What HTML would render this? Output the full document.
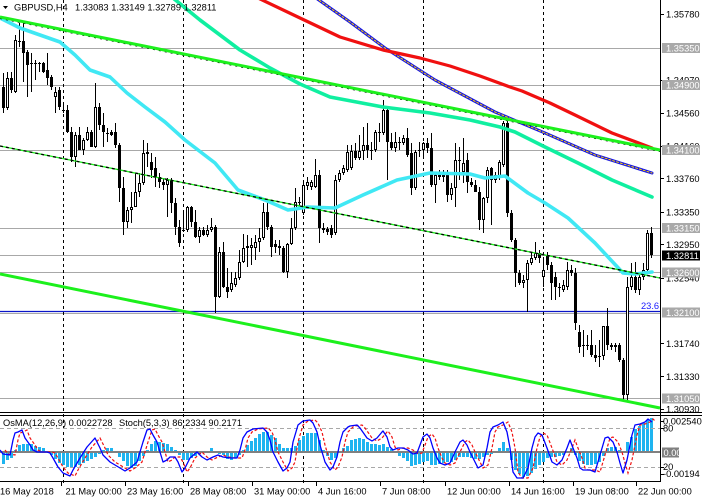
<!DOCTYPE html>
<html><head><meta charset="utf-8">
<style>
html,body{margin:0;padding:0;background:#fff;width:702px;height:502px;overflow:hidden}
svg{display:block}
text{font-family:"Liberation Sans",sans-serif;font-size:9.3px;fill:#000}
</style></head>
<body>
<svg width="702" height="502" viewBox="0 0 702 502" xmlns="http://www.w3.org/2000/svg">
<rect width="702" height="502" fill="#fff"/>
<!-- horizontal level lines -->
<g stroke="#a8a8a8" stroke-width="1" shape-rendering="crispEdges">
<path d="M0 48.5H660M0 85.5H660M0 150.5H660M0 228.5H660M0 255.5H660M0 272.5H660M0 313.5H660M0 398.5H660"/>
</g>
<path d="M0 311.5H660" stroke="#0a14c8" stroke-width="1.3"/>
<!-- vertical dashed separators -->
<g stroke="#000" stroke-width="1" stroke-dasharray="3 3" shape-rendering="crispEdges">
<path d="M63.5 0V486M183.5 0V486M303.5 0V486M423.5 0V486M543.5 0V486"/>
</g>
<!-- candles -->
<g shape-rendering="crispEdges">
<path stroke="#000" stroke-width="1" fill="none" d="M3.5 73V113M7.5 72V110M11.5 72V93M15.5 35V93M19.5 23V47M23.5 23V82M27.5 50V97M31.5 53V92M35.5 60V80M39.5 62V72M43.5 62V73M47.5 53V85M51.5 75V90M55.5 87V113M59.5 87V110M63.5 105V113M67.5 105V133M71.5 127V162M75.5 132V167M79.5 127V150M83.5 138V155M87.5 127V141M91.5 130V147M95.5 83V148M99.5 103V130M103.5 113V147M107.5 128V142M111.5 130V136M115.5 123V148M119.5 143V202M123.5 177V235M127.5 207V228M131.5 192V223M135.5 173V207M139.5 173V197M143.5 140V185M147.5 143V167M151.5 153V178M155.5 157V187M159.5 173V188M163.5 178V190M167.5 178V217M171.5 178V213M175.5 198V235M179.5 220V247M183.5 213V232M187.5 206V232M191.5 206V227M195.5 210V238M199.5 227V243M203.5 227V236M207.5 225V237M211.5 218V232M215.5 225V313M219.5 247V298M223.5 242V288M227.5 268V298M231.5 272V292M235.5 272V287M239.5 250V280M243.5 234V263M247.5 235V267M251.5 238V265M255.5 235V260M259.5 228V252M263.5 203V240M267.5 202V230M271.5 225V257M275.5 240V253M279.5 240V255M283.5 246V273M287.5 243V278M291.5 218V245M295.5 188V230M299.5 197V207M303.5 180V215M307.5 177V190M311.5 180V190M315.5 159V188M319.5 170V243M323.5 223V233M327.5 227V235M331.5 225V238M335.5 175V235M339.5 170V182M343.5 165V175M347.5 145V172M351.5 145V170M355.5 143V160M359.5 135V160M363.5 127V160M367.5 123V158M371.5 142V160M375.5 130V152M379.5 123V142M383.5 100V135M387.5 108V180M391.5 133V150M395.5 132V152M399.5 137V150M403.5 135V145M407.5 128V157M411.5 143V195M415.5 150V190M419.5 142V157M423.5 142V157M427.5 138V153M431.5 133V187M435.5 172V203M439.5 170V180M443.5 170V182M447.5 170V202M451.5 183V200M455.5 143V207M459.5 147V180M463.5 138V183M467.5 153V193M471.5 178V187M475.5 180V190M479.5 187V230M483.5 197V233M487.5 167V203M491.5 167V225M495.5 172V183M499.5 160V180M503.5 121V167M507.5 121V217M511.5 210V242M515.5 238V287M519.5 270V285M523.5 275V288M527.5 260V312M531.5 253V265M535.5 242V260M539.5 250V263M543.5 257V287M547.5 252V270M551.5 262V300M555.5 272V300M559.5 283V297M563.5 280V292M567.5 262V290M571.5 265V276M575.5 268V330M579.5 325V353M583.5 330V357M587.5 335V350M591.5 330V357M595.5 345V362M599.5 340V367M603.5 326V360M607.5 308V350M611.5 343V350M615.5 343V352M619.5 343V362M623.5 358V400M627.5 277V400M631.5 263V290M635.5 262V293M639.5 275V295M643.5 263V280M647.5 230V272M651.5 227V258"/>
<path fill="#000" d="M2 87h3V108h-3zM10 78h3V90h-3zM18 41h3v1h-3zM22 41h3V53h-3zM26 52h3V65h-3zM30 63h3v1h-3zM34 63h3v1h-3zM38 63h3v1h-3zM42 63h3V72h-3zM46 70h3V78h-3zM50 77h3V87h-3zM58 90h3V107h-3zM62 110h3v1h-3zM66 110h3V132h-3zM70 132h3V157h-3zM78 135h3V150h-3zM90 132h3V147h-3zM98 107h3V125h-3zM102 125h3V132h-3zM106 133h3v1h-3zM110 132h3V135h-3zM114 132h3V145h-3zM118 145h3V188h-3zM122 188h3V222h-3zM150 162h3V170h-3zM154 168h3V177h-3zM158 177h3V182h-3zM162 182h3V185h-3zM170 180h3V203h-3zM174 203h3V227h-3zM178 227h3V243h-3zM182 230h3v1h-3zM190 207h3V222h-3zM194 222h3V237h-3zM202 230h3V235h-3zM214 227h3V297h-3zM222 252h3V287h-3zM226 287h3V292h-3zM266 212h3V227h-3zM270 227h3V247h-3zM274 244h3V247h-3zM278 246h3V248h-3zM282 248h3V272h-3zM298 202h3v1h-3zM318 175h3V228h-3zM322 228h3V230h-3zM326 229h3V232h-3zM330 228h3V235h-3zM354 151h3V158h-3zM366 145h3V150h-3zM370 150h3v1h-3zM378 132h3v1h-3zM386 110h3V142h-3zM390 142h3V148h-3zM398 142h3v1h-3zM406 138h3V155h-3zM410 153h3V188h-3zM418 150h3v1h-3zM426 143h3V148h-3zM430 148h3V185h-3zM438 175h3V177h-3zM442 175h3V177h-3zM446 175h3V195h-3zM458 160h3v1h-3zM466 160h3V182h-3zM470 182h3V185h-3zM474 185h3V192h-3zM478 192h3V220h-3zM490 168h3V180h-3zM506 123h3V213h-3zM510 213h3V240h-3zM514 240h3V273h-3zM518 273h3V283h-3zM538 253h3V258h-3zM546 255h3V265h-3zM550 265h3V283h-3zM554 277h3V287h-3zM558 287h3v1h-3zM570 270h3V273h-3zM574 273h3V323h-3zM578 332h3V347h-3zM582 345h3v1h-3zM586 345h3v1h-3zM590 345h3V355h-3zM594 355h3V358h-3zM598 356h3v1h-3zM606 326h3V345h-3zM610 345h3V347h-3zM614 345h3V347h-3zM618 345h3V360h-3zM622 360h3V395h-3zM634 277h3V290h-3zM650 233h3V255h-3z"/>
</g>
<path fill="#fff" stroke="#000" stroke-width="1" d="M6.5 78.5h2V107.5h-2zM14.5 40.5h2V91.5h-2zM54.5 92.5h2V96.5h-2zM74.5 135.5h2V156.5h-2zM82.5 140.5h2V149.5h-2zM86.5 132.5h2V139.5h-2zM94.5 107.5h2V146.5h-2zM126.5 210.5h2V221.5h-2zM130.5 207.5h2V209.5h-2zM134.5 192.5h2V206.5h-2zM138.5 183.5h2V191.5h-2zM142.5 153.5h2V182.5h-2zM146.5 152.5h2V153.5h-2zM166.5 180.5h2V184.5h-2zM186.5 207.5h2V229.5h-2zM198.5 230.5h2V236.5h-2zM206.5 230.5h2V234.5h-2zM210.5 227.5h2V229.5h-2zM218.5 252.5h2V296.5h-2zM230.5 283.5h2V289.5h-2zM234.5 278.5h2V284.5h-2zM238.5 262.5h2V277.5h-2zM242.5 248.5h2V261.5h-2zM246.5 246.5h2V247.5h-2zM250.5 245.5h2V247.5h-2zM254.5 242.5h2V247.5h-2zM258.5 238.5h2V241.5h-2zM262.5 212.5h2V237.5h-2zM286.5 244.5h2V271.5h-2zM290.5 228.5h2V243.5h-2zM294.5 202.5h2V227.5h-2zM302.5 185.5h2V212.5h-2zM306.5 182.5h2V185.5h-2zM310.5 182.5h2V186.5h-2zM314.5 175.5h2V186.5h-2zM334.5 180.5h2V232.5h-2zM338.5 173.5h2V179.5h-2zM342.5 168.5h2V172.5h-2zM346.5 152.5h2V169.5h-2zM350.5 151.5h2V167.5h-2zM358.5 151.5h2V157.5h-2zM362.5 145.5h2V150.5h-2zM374.5 132.5h2V149.5h-2zM382.5 110.5h2V132.5h-2zM394.5 142.5h2V147.5h-2zM402.5 138.5h2V142.5h-2zM414.5 152.5h2V187.5h-2zM422.5 143.5h2V149.5h-2zM434.5 175.5h2V184.5h-2zM450.5 188.5h2V194.5h-2zM454.5 160.5h2V187.5h-2zM462.5 163.5h2V171.5h-2zM482.5 198.5h2V219.5h-2zM486.5 170.5h2V197.5h-2zM494.5 175.5h2V179.5h-2zM498.5 162.5h2V176.5h-2zM502.5 123.5h2V164.5h-2zM522.5 280.5h2V282.5h-2zM526.5 263.5h2V279.5h-2zM530.5 258.5h2V262.5h-2zM534.5 253.5h2V257.5h-2zM542.5 270.5h2V276.5h-2zM562.5 285.5h2V289.5h-2zM566.5 270.5h2V286.5h-2zM602.5 326.5h2V355.5h-2zM626.5 287.5h2V394.5h-2zM630.5 277.5h2V286.5h-2zM638.5 277.5h2V289.5h-2zM642.5 270.5h2V276.5h-2zM646.5 233.5h2V269.5h-2z"/>
<!-- moving averages -->
<g fill="none" stroke-linejoin="round" stroke-linecap="round">
<polyline stroke="#10efa0" stroke-width="3.6" points="173,-2 200,20 240,50 270,68 300,84 330,97 383,107 430,113 470,120 500,127 515,132 545,147 578,163 612,180 652,197"/>
<polyline stroke="#1414e6" stroke-width="3" points="316,-2 350,22 385,48 435,80 495,112 545,133 595,155 652,173"/>
<polyline stroke="#ffd400" stroke-width="1" stroke-dasharray="2 2" points="316,-2 350,22 385,48 435,80 495,112 545,133 595,155 652,173"/>
<polyline stroke="#f01010" stroke-width="3.2" points="258,-2 300,18 340,37 383,50 420,58 450,66 480,76 510,87 522,91 550,103 575,115 612,133 652,148"/>
<polyline stroke="#40e8f4" stroke-width="3.6" points="0,18 20,28 40,35 60,42 75,55 90,70 110,77 127,93 145,107 165,122 185,140 215,163 238,190 265,200 288,210 308,207 335,208 363,195 397,180 430,173 470,174 485,178 505,176 528,193 545,203 568,218 595,243 623,273 635,274 652,272"/>
</g>
<!-- trend lines -->
<g fill="none">
<path d="M0 18.5L660 151.5" stroke="#000" stroke-width="1" stroke-dasharray="2 4"/>
<path d="M0 17L660 150" stroke="#1cf01c" stroke-width="3"/>
<path d="M0 146L660 278" stroke="#1cf01c" stroke-width="1.3"/>
<path d="M0 146L660 278" stroke="#000" stroke-width="1.3" stroke-dasharray="3 3"/>
<path d="M0 274L660 408" stroke="#1cf01c" stroke-width="3"/>
</g>
<text x="641" y="309" style="fill:#1a1aff">23.6</text>
<!-- header -->
<polygon points="3,6 8,6 5.5,9" fill="#000"/>
<text x="14" y="10.7">GBPUSD,H4</text>
<text x="75" y="10.7">1.33083 1.33149 1.32789 1.32811</text>
<!-- frames -->
<g stroke="#000" stroke-width="1" shape-rendering="crispEdges" fill="none">
<path d="M660.5 0V482"/>
<path d="M0 412.5H702M0 415.5H702M0 481.5H660"/>
<path d="M660 14.5h4M660 80.5h4M660 113.5h4M660 146.5h4M660 178.5h4M660 212.5h4M660 244.5h4M660 278.5h4M660 343.5h4M660 376.5h4M660 409.5h4"/>
<path d="M660 421.5h4M660 428.5h4M660 467.5h4M660 474.5h4"/>
<path d="M61.5 482V486M125.5 482V486M188.5 482V486M252.5 482V486M316.5 482V486M380.5 482V486M445.5 482V486M509.5 482V486M573.5 482V486M636.5 482V486"/>
</g>
<!-- price axis labels -->
<g>
<text x="666" y="17.4">1.35780</text>
<text x="666" y="83.4">1.34970</text>
<text x="666" y="116.4">1.34560</text>
<text x="666" y="149.4">1.34160</text>
<text x="666" y="181.8">1.33760</text>
<text x="666" y="215.3">1.33350</text>
<text x="666" y="247.8">1.32950</text>
<text x="666" y="281.3">1.32540</text>
<text x="666" y="346.8">1.31740</text>
<text x="666" y="379.8">1.31330</text>
<text x="666" y="412.3">1.30930</text>
</g>
<g fill="#a9a9a9">
<rect x="662" y="43" width="38" height="10"/>
<rect x="662" y="80" width="38" height="10"/>
<rect x="662" y="145" width="38" height="10"/>
<rect x="662" y="223" width="38" height="10"/>
<rect x="662" y="267.5" width="38" height="10"/>
<rect x="662" y="307.5" width="38" height="10"/>
<rect x="662" y="393.5" width="38" height="10"/>
</g>
<rect x="662" y="250.5" width="38" height="10" fill="#000"/>
<g style="fill:#fff">
<text x="666" y="51.5" style="fill:#fff">1.35350</text>
<text x="666" y="88.5" style="fill:#fff">1.34900</text>
<text x="666" y="153.5" style="fill:#fff">1.34100</text>
<text x="666" y="231.5" style="fill:#fff">1.33150</text>
<text x="666" y="258.9" style="fill:#fff">1.32811</text>
<text x="666" y="276" style="fill:#fff">1.32600</text>
<text x="666" y="316" style="fill:#fff">1.32100</text>
<text x="666" y="402" style="fill:#fff">1.31050</text>
</g>
<!-- indicator panel -->
<path fill="#1eb4f0" shape-rendering="crispEdges" d="M2 452V464h3V452zM6 452V460h3V452zM10 452V458h3V452zM14 452V450h3V452zM18 452V445h3V452zM22 452V444h3V452zM26 452V444h3V452zM30 452V444h3V452zM34 452V446h3V452zM38 452V447h3V452zM42 452V448h3V452zM46 452V451h3V452zM50 452V455h3V452zM54 452V459h3V452zM58 452V463h3V452zM62 452V465h3V452zM66 452V467h3V452zM70 452V468h3V452zM74 452V467h3V452zM78 452V465h3V452zM82 452V463h3V452zM86 452V461h3V452zM90 452V459h3V452zM94 452V457h3V452zM98 452V454h3V452zM102 452V450h3V452zM106 452V448h3V452zM110 452V448h3V452zM114 452V453h3V452zM118 452V457h3V452zM122 452V461h3V452zM126 452V466h3V452zM130 452V468h3V452zM134 452V466h3V452zM138 452V461h3V452zM142 452V456h3V452zM146 452V450h3V452zM150 452V444h3V452zM154 452V441h3V452zM158 452V442h3V452zM162 452V443h3V452zM166 452V444h3V452zM170 452V447h3V452zM174 452V450h3V452zM178 452V455h3V452zM182 452V460h3V452zM186 452V460h3V452zM190 452V458h3V452zM194 452V456h3V452zM198 452V454h3V452zM202 452V453h3V452zM206 452V451h3V452zM210 452V448h3V452zM214 452V451h3V452zM218 452V454h3V452zM222 452V455h3V452zM226 452V459h3V452zM230 452V460h3V452zM234 452V458h3V452zM238 452V455h3V452zM242 452V450h3V452zM246 452V445h3V452zM250 452V441h3V452zM254 452V438h3V452zM258 452V434h3V452zM262 452V432h3V452zM266 452V432h3V452zM270 452V435h3V452zM274 452V438h3V452zM278 452V444h3V452zM282 452V448h3V452zM286 452V448h3V452zM290 452V448h3V452zM294 452V446h3V452zM298 452V440h3V452zM302 452V436h3V452zM306 452V433h3V452zM310 452V433h3V452zM314 452V433h3V452zM318 452V440h3V452zM322 452V450h3V452zM326 452V456h3V452zM330 452V460h3V452zM334 452V458h3V452zM338 452V453h3V452zM342 452V448h3V452zM346 452V446h3V452zM350 452V440h3V452zM354 452V439h3V452zM358 452V438h3V452zM362 452V439h3V452zM366 452V442h3V452zM370 452V444h3V452zM374 452V444h3V452zM378 452V445h3V452zM382 452V444h3V452zM386 452V447h3V452zM390 452V449h3V452zM394 452V453h3V452zM398 452V456h3V452zM402 452V458h3V452zM406 452V461h3V452zM410 452V466h3V452zM414 452V465h3V452zM418 452V464h3V452zM422 452V462h3V452zM426 452V461h3V452zM430 452V465h3V452zM434 452V465h3V452zM438 452V464h3V452zM442 452V463h3V452zM446 452V462h3V452zM450 452V462h3V452zM454 452V460h3V452zM458 452V457h3V452zM462 452V457h3V452zM466 452V457h3V452zM470 452V458h3V452zM474 452V459h3V452zM478 452V459h3V452zM482 452V457h3V452zM486 452V455h3V452zM490 452V454h3V452zM494 452V451h3V452zM498 452V448h3V452zM502 452V442h3V452zM506 452V448h3V452zM510 452V460h3V452zM514 452V470h3V452zM518 452V474h3V452zM522 452V477h3V452zM526 452V476h3V452zM530 452V473h3V452zM534 452V469h3V452zM538 452V465h3V452zM542 452V462h3V452zM546 452V458h3V452zM550 452V457h3V452zM554 452V457h3V452zM558 452V456h3V452zM562 452V455h3V452zM566 452V453h3V452zM570 452V448h3V452zM574 452V455h3V452zM578 452V461h3V452zM582 452V464h3V452zM586 452V465h3V452zM590 452V465h3V452zM594 452V464h3V452zM598 452V462h3V452zM602 452V456h3V452zM606 452V448h3V452zM610 452V447h3V452zM614 452V447h3V452zM618 452V450h3V452zM622 452V453h3V452zM626 452V442h3V452zM630 452V437h3V452zM634 452V429h3V452zM638 452V426h3V452zM642 452V423h3V452zM646 452V420h3V452zM650 452V418h3V452z"/>
<path d="M0 452H660" stroke="#808080" stroke-width="2"/>
<path d="M0 428.5H660M0 467.5H660" stroke="#a8a8a8" stroke-width="1" stroke-dasharray="4 3"/>
<polyline fill="none" stroke="#f01010" stroke-width="1.2" stroke-dasharray="3 2" transform="translate(5 0)" points="0,450 3,454 10,455 13,440 15,433 18,432 22,430 25,438 30,445 33,450 37,452 42,452 47,452 50,453 53,458 58,467 63,473 70,476 73,470 80,458 87,447 95,438 100,448 103,455 110,462 120,468 125,471 130,468 137,462 143,442 147,430 150,429 153,435 157,442 160,452 163,462 167,460 170,457 175,457 178,462 182,472 185,468 190,458 197,452 202,457 207,460 213,457 218,455 223,457 230,458 237,458 240,450 243,438 247,432 253,429 263,428 267,432 270,440 273,452 278,462 283,471 287,468 290,462 293,442 298,425 303,421 310,420 313,423 317,432 320,445 325,462 330,470 333,467 337,457 340,442 343,432 348,427 350,426 357,425 360,428 367,438 372,441 377,438 382,432 383,431 387,437 390,447 393,450 398,448 403,448 408,450 413,454 417,453 420,445 423,437 427,434 430,438 433,448 437,458 440,463 445,465 450,463 455,452 460,442 463,440 467,445 470,452 473,458 478,468 483,465 487,448 490,432 493,427 498,425 503,422 507,432 510,448 513,472 517,478 523,478 528,468 532,448 535,437 538,433 542,435 547,448 552,462 557,465 562,460 567,448 570,440 573,448 577,458 580,468 583,470 590,470 595,472 600,455 605,438 608,437 613,442 617,452 620,463 623,473 627,460 632,435 635,425 640,424 645,422 648,419 650,421"/>
<polyline fill="none" stroke="#0000ff" stroke-width="1.3" stroke-linejoin="round" points="0,450 3,454 10,455 13,440 15,433 18,432 22,430 25,438 30,445 33,450 37,452 42,452 47,452 50,453 53,458 58,467 63,473 70,476 73,470 80,458 87,447 95,438 100,448 103,455 110,462 120,468 125,471 130,468 137,462 143,442 147,430 150,429 153,435 157,442 160,452 163,462 167,460 170,457 175,457 178,462 182,472 185,468 190,458 197,452 202,457 207,460 213,457 218,455 223,457 230,458 237,458 240,450 243,438 247,432 253,429 263,428 267,432 270,440 273,452 278,462 283,471 287,468 290,462 293,442 298,425 303,421 310,420 313,423 317,432 320,445 325,462 330,470 333,467 337,457 340,442 343,432 348,427 350,426 357,425 360,428 367,438 372,441 377,438 382,432 383,431 387,437 390,447 393,450 398,448 403,448 408,450 413,454 417,453 420,445 423,437 427,434 430,438 433,448 437,458 440,463 445,465 450,463 455,452 460,442 463,440 467,445 470,452 473,458 478,468 483,465 487,448 490,432 493,427 498,425 503,422 507,432 510,448 513,472 517,478 523,478 528,468 532,448 535,437 538,433 542,435 547,448 552,462 557,465 562,460 567,448 570,440 573,448 577,458 580,468 583,470 590,470 595,472 600,455 605,438 608,437 613,442 617,452 620,463 623,473 627,460 632,435 635,425 640,424 645,422 648,419 652,422"/>
<text x="3" y="426">OsMA(12,26,9) 0.0022728</text>
<text x="119" y="426">Stoch(5,3,3) 86.2334 90.2171</text>
<text x="663" y="424.4">0.002540</text>
<text x="663" y="431.3">80</text>
<rect x="662" y="447.5" width="17" height="10" fill="#808080"/>
<text x="663.5" y="456" style="fill:#fff">0.00</text>
<text x="663" y="470.2">20</text>
<text x="663" y="477">-0.00194</text>
<!-- date axis -->
<text x="0" y="494.3">16 May 2018</text>
<text x="65.5" y="494.3">21 May 00:00</text>
<text x="127" y="494.3">23 May 16:00</text>
<text x="190" y="494.3">28 May 08:00</text>
<text x="254" y="494.3">31 May 00:00</text>
<text x="318" y="494.3">4 Jun 16:00</text>
<text x="382" y="494.3">7 Jun 08:00</text>
<text x="447" y="494.3">12 Jun 00:00</text>
<text x="511" y="494.3">14 Jun 16:00</text>
<text x="575" y="494.3">19 Jun 08:00</text>
<text x="638" y="494.3">22 Jun 00:00</text>
</svg>
</body></html>
